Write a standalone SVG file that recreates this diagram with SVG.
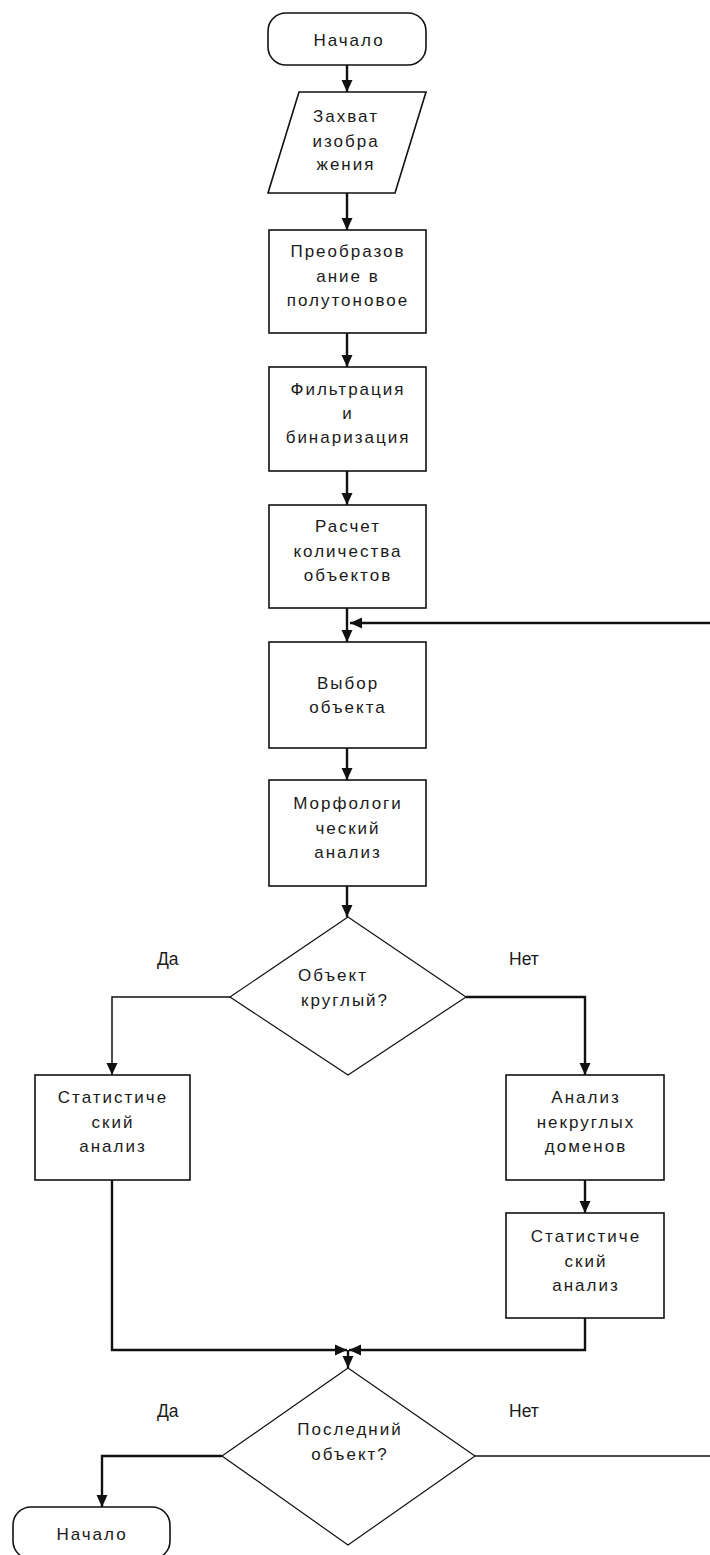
<svg xmlns="http://www.w3.org/2000/svg" width="710" height="1555" viewBox="0 0 710 1555">
<style>
.shape{fill:#fff;stroke:#111;stroke-width:1.6}
.dia{fill:#fff;stroke:#111;stroke-width:1.2}
.t{font-family:"Liberation Sans",Arial,sans-serif;font-size:17px;fill:#1a1a1a;text-anchor:middle;letter-spacing:2px}
.l{font-family:"Liberation Sans",Arial,sans-serif;font-size:17.5px;fill:#1a1a1a;text-anchor:start}
.c{fill:none;stroke:#111;stroke-width:2.4}
.cn{fill:none;stroke:#111;stroke-width:1.5}
</style>
<defs>
<marker id="ah" markerUnits="userSpaceOnUse" viewBox="0 0 12 12" refX="12" refY="6" markerWidth="12" markerHeight="12" orient="auto">
<path d="M0,0.5 L12,6 L0,11.5 z" fill="#111"/>
</marker>
</defs>
<rect width="710" height="1555" fill="#fff"/>

<g id="connectors">
<line class="c" x1="347" y1="65" x2="347" y2="92" marker-end="url(#ah)"/>
<line class="c" x1="347" y1="193" x2="347" y2="230" marker-end="url(#ah)"/>
<line class="c" x1="347" y1="333" x2="347" y2="367" marker-end="url(#ah)"/>
<line class="c" x1="347" y1="471" x2="347" y2="505" marker-end="url(#ah)"/>
<line class="c" x1="347" y1="608" x2="347" y2="642" marker-end="url(#ah)"/>
<line class="c" x1="710" y1="623" x2="350" y2="623" marker-end="url(#ah)"/>
<line class="c" x1="347" y1="748" x2="347" y2="780" marker-end="url(#ah)"/>
<line class="c" x1="347" y1="886" x2="347" y2="917" marker-end="url(#ah)"/>
<polyline class="cn" points="230,997 112,997 112,1075" marker-end="url(#ah)"/>
<polyline class="c" points="466,997 585,997 585,1075" marker-end="url(#ah)"/>
<line class="c" x1="585" y1="1180" x2="585" y2="1213" marker-end="url(#ah)"/>
<polyline class="c" points="112,1180 112,1350 347,1350" marker-end="url(#ah)"/>
<polyline class="c" points="585,1318 585,1350 349,1350" marker-end="url(#ah)"/>
<line class="c" x1="348" y1="1350" x2="348" y2="1368" marker-end="url(#ah)"/>
<polyline class="c" points="222,1456 102,1456 102,1507" marker-end="url(#ah)"/>
<line class="cn" x1="475" y1="1456" x2="710" y2="1456"/>
</g>

<g id="start">
<rect class="shape" x="268" y="13" width="158" height="52" rx="18" ry="18"/>
<text class="t" x="349" y="46">Начало</text>
</g>

<g id="capture">
<polygon class="shape" points="299,92 426,92 395,193 268,193"/>
<text class="t" x="346" y="122">Захват</text>
<text class="t" x="346" y="147">изобра</text>
<text class="t" x="346" y="170">жения</text>
</g>

<g id="gray">
<rect class="shape" x="269" y="230" width="157" height="103"/>
<text class="t" x="348" y="257">Преобразов</text>
<text class="t" x="348" y="282">ание в</text>
<text class="t" x="348" y="306">полутоновое</text>
</g>

<g id="filter">
<rect class="shape" x="269" y="367" width="157" height="104"/>
<text class="t" x="348" y="395">Фильтрация</text>
<text class="t" x="348" y="419">и</text>
<text class="t" x="348" y="443">бинаризация</text>
</g>

<g id="count">
<rect class="shape" x="269" y="505" width="157" height="103"/>
<text class="t" x="348" y="532">Расчет</text>
<text class="t" x="348" y="557">количества</text>
<text class="t" x="348" y="581">объектов</text>
</g>

<g id="select">
<rect class="shape" x="269" y="642" width="157" height="106"/>
<text class="t" x="348" y="689">Выбор</text>
<text class="t" x="348" y="713">объекта</text>
</g>

<g id="morph">
<rect class="shape" x="269" y="780" width="157" height="106"/>
<text class="t" x="348" y="809">Морфологи</text>
<text class="t" x="348" y="834">ческий</text>
<text class="t" x="348" y="858">анализ</text>
</g>

<g id="round">
<polygon class="dia" points="348,917 466,997 348,1075 230,997"/>
<text class="t" x="333" y="981">Объект</text>
<text class="t" x="345" y="1006">круглый?</text>
</g>

<g id="labels1">
<text class="l" x="157" y="965">Да</text>
<text class="l" x="509" y="965">Нет</text>
</g>

<g id="stat-left">
<rect class="shape" x="35" y="1075" width="155" height="105"/>
<text class="t" x="113" y="1103">Статистиче</text>
<text class="t" x="113" y="1128">ский</text>
<text class="t" x="113" y="1152">анализ</text>
</g>

<g id="nonround">
<rect class="shape" x="506" y="1075" width="158" height="105"/>
<text class="t" x="586" y="1103">Анализ</text>
<text class="t" x="586" y="1128">некруглых</text>
<text class="t" x="586" y="1152">доменов</text>
</g>

<g id="stat-right">
<rect class="shape" x="506" y="1213" width="158" height="105"/>
<text class="t" x="586" y="1242">Статистиче</text>
<text class="t" x="586" y="1267">ский</text>
<text class="t" x="586" y="1291">анализ</text>
</g>

<g id="last">
<polygon class="dia" points="348,1368 475,1456 348,1545 222,1456"/>
<text class="t" x="350" y="1435">Последний</text>
<text class="t" x="350" y="1460">объект?</text>
</g>

<g id="labels2">
<text class="l" x="157" y="1417">Да</text>
<text class="l" x="509" y="1417">Нет</text>
</g>

<g id="end">
<rect class="shape" x="13" y="1507" width="157" height="52" rx="18" ry="18"/>
<text class="t" x="92" y="1540">Начало</text>
</g>
</svg>
